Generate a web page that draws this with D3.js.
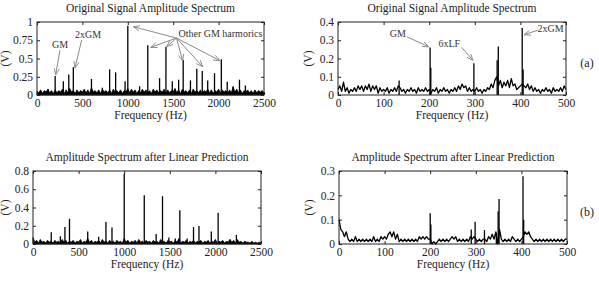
<!DOCTYPE html>
<html>
<head>
<meta charset="utf-8">
<script src="https://cdn.jsdelivr.net/npm/d3@7"></script>
<style>
  body { margin: 0; background: #fff; }
  svg { display: block; font-family: "Liberation Serif", "Times New Roman", serif; }
</style>
</head>
<body>
<svg width="599" height="284"></svg>
<script>
'use strict'

// ---- data ----

// tick values
const wideTicks = [0, 500, 1000, 1500, 2000, 2500];
const narrowTicks = [0, 100, 200, 300, 400, 500];
const yTicksA1 = [0, 0.25, 0.5, 0.75, 1];
const yTicksA2 = [0, 0.1, 0.2, 0.3, 0.4];
const yTicksB1 = [0, 0.2, 0.4, 0.6, 0.8];
const yTicksB2 = [0, 0.1, 0.2, 0.3];

// noise floor, 0..2500 Hz every 20 Hz
const noiseA1 = [
  0.05,0.03,0.07,0.02,0.06,0.04,0.08,0.03,0.06,0.02,
  0.07,0.03,0.06,0.04,0.08,0.02,0.07,0.03,0.09,0.04,
  0.06,0.02,0.07,0.03,0.06,0.04,0.08,0.03,0.07,0.02,
  0.10,0.04,0.06,0.03,0.07,0.02,0.08,0.04,0.06,0.03,
  0.07,0.02,0.08,0.04,0.06,0.03,0.07,0.02,0.06,0.04,
  0.09,0.03,0.08,0.04,0.07,0.02,0.06,0.03,0.08,0.04,
  0.07,0.03,0.06,0.02,0.08,0.04,0.07,0.03,0.06,0.04,
  0.08,0.02,0.07,0.03,0.06,0.04,0.09,0.03,0.07,0.02,
  0.08,0.04,0.06,0.03,0.07,0.02,0.08,0.04,0.06,0.03,
  0.07,0.02,0.06,0.04,0.08,0.03,0.07,0.02,0.06,0.04,
  0.08,0.03,0.07,0.04,0.06,0.02,0.07,0.03,0.11,0.04,
  0.08,0.03,0.07,0.02,0.06,0.04,0.07,0.03,0.06,0.02,
  0.07,0.03,0.06,0.04,0.06,0.03
];
const noiseB1 = [
  0.07,0.02,0.04,0.01,0.05,0.02,0.03,0.01,0.04,0.02,
  0.03,0.01,0.04,0.02,0.03,0.01,0.05,0.02,0.04,0.01,
  0.03,0.02,0.04,0.01,0.03,0.02,0.05,0.01,0.03,0.02,
  0.06,0.02,0.04,0.01,0.03,0.02,0.04,0.01,0.05,0.02,
  0.03,0.01,0.04,0.02,0.03,0.01,0.04,0.02,0.03,0.01,
  0.06,0.02,0.04,0.01,0.03,0.02,0.04,0.01,0.05,0.02,
  0.03,0.01,0.04,0.02,0.03,0.01,0.04,0.02,0.03,0.01,
  0.05,0.02,0.03,0.01,0.04,0.02,0.03,0.01,0.04,0.02,
  0.06,0.01,0.03,0.02,0.04,0.01,0.03,0.02,0.04,0.01,
  0.03,0.02,0.04,0.01,0.03,0.02,0.04,0.01,0.03,0.02,
  0.05,0.01,0.03,0.02,0.04,0.01,0.03,0.02,0.05,0.02,
  0.04,0.01,0.05,0.02,0.03,0.01,0.03,0.02,0.02,0.01,
  0.03,0.01,0.02,0.01,0.02,0.01
];

// noise floor, 0..500 Hz every 4 Hz
const noiseA2 = [
  0.03,0.05,0.02,0.07,0.02,0.04,0.01,0.03,0.02,0.04,
  0.02,0.05,0.03,0.05,0.02,0.05,0.03,0.06,0.02,0.05,
  0.03,0.05,0.01,0.04,0.02,0.03,0.02,0.04,0.01,0.03,
  0.02,0.04,0.02,0.05,0.04,0.02,0.03,0.01,0.03,0.02,
  0.04,0.02,0.03,0.01,0.04,0.02,0.03,0.02,0.04,0.02,
  0.03,0.01,0.03,0.02,0.04,0.01,0.03,0.02,0.04,0.02,
  0.03,0.01,0.03,0.02,0.04,0.02,0.05,0.03,0.06,0.04,
  0.05,0.02,0.04,0.02,0.03,0.02,0.04,0.02,0.03,0.01,
  0.03,0.02,0.04,0.03,0.06,0.04,0.08,0.10,0.05,0.08,
  0.04,0.07,0.05,0.08,0.04,0.09,0.05,0.06,0.03,0.04,
  0.05,0.06,0.05,0.04,0.06,0.03,0.05,0.02,0.04,0.02,
  0.03,0.01,0.03,0.02,0.04,0.02,0.03,0.01,0.04,0.02,
  0.03,0.02,0.04,0.02,0.05,0.03
];
const noiseB2 = [
  0.10,0.06,0.05,0.03,0.05,0.02,0.01,0.02,0.01,0.03,
  0.01,0.02,0.01,0.02,0.01,0.02,0.01,0.02,0.01,0.03,
  0.01,0.02,0.01,0.03,0.02,0.03,0.02,0.04,0.05,0.03,
  0.05,0.02,0.04,0.01,0.02,0.01,0.02,0.01,0.02,0.01,
  0.02,0.01,0.02,0.01,0.03,0.02,0.03,0.02,0.03,0.02,
  0.02,0.00,0.01,0.00,0.01,0.02,0.01,0.02,0.01,0.02,
  0.01,0.02,0.03,0.02,0.03,0.01,0.02,0.01,0.02,0.01,
  0.02,0.01,0.03,0.02,0.03,0.02,0.01,0.02,0.01,0.02,
  0.02,0.01,0.03,0.02,0.04,0.02,0.05,0.00,0.06,0.02,
  0.01,0.02,0.01,0.02,0.01,0.03,0.02,0.01,0.02,0.01,
  0.02,0.03,0.05,0.04,0.05,0.03,0.02,0.01,0.02,0.01,
  0.02,0.01,0.02,0.01,0.02,0.01,0.02,0.01,0.02,0.01,
  0.02,0.01,0.02,0.01,0.02,0.02
];

// spectral lines (Hz / V)
const peakFreqA1 = [125,200,290,350,400,600,720,800,866,970,1000,1130,1220,1350,1420,1490,1560,1610,1690,1760,1820,1880,1955,2030,2095,2160,2230,2295];
const peakAmpA1  = [0.08,0.26,0.19,0.28,0.38,0.22,0.10,0.35,0.31,0.19,0.95,0.12,0.68,0.23,0.66,0.19,0.21,0.48,0.20,0.36,0.33,0.20,0.30,0.49,0.18,0.12,0.21,0.13];
const peakFreqB1 = [200,300,350,400,600,720,800,866,1000,1220,1350,1420,1490,1560,1610,1690,1760,1820,1955,2030,2160,2230];
const peakAmpB1  = [0.13,0.085,0.185,0.276,0.137,0.08,0.24,0.18,0.77,0.535,0.11,0.524,0.07,0.06,0.37,0.06,0.185,0.196,0.137,0.343,0.05,0.10];
const peakFreqA2 = [134,202,203.5,298,349,351.5,404,406];
const peakAmpA2  = [0.08,0.26,0.15,0.174,0.19,0.266,0.367,0.14];
const peakFreqB2 = [200,201.5,290,298.5,319,345,349,351,403.5,405];
const peakAmpB2  = [0.126,0.08,0.06,0.091,0.057,0.045,0.135,0.185,0.278,0.10];

// annotations: label position and arrows in data units [fromF, fromA, toF, toA]
const notesA1 = [
  { text: 'GM', f: 253, a: 0.645, anchor: 'middle', arrows: [[253, 0.615, 205, 0.275]] },
  { text: '2xGM', f: 562, a: 0.78, anchor: 'middle', arrows: [[492, 0.753, 418, 0.37]] },
  { text: 'Other GM harmorics', f: 1558, a: 0.80, anchor: 'start', arrows: [
    [1536, 0.78, 1061, 0.936], [1536, 0.78, 1252, 0.653], [1536, 0.78, 1428, 0.662],
    [1536, 0.78, 1605, 0.466], [1536, 0.78, 1825, 0.388], [1536, 0.78, 2015, 0.47]] }
];
const notesA2 = [
  { text: 'GM', f: 131, a: 0.319, anchor: 'middle', arrows: [[151, 0.319, 199, 0.264]] },
  { text: '6xLF', f: 244, a: 0.264, anchor: 'middle', arrows: [[271, 0.261, 296, 0.19]] },
  { text: '2xGM', f: 466, a: 0.347, anchor: 'middle', arrows: [[438, 0.355, 408, 0.33]] }
];

// ---- drawing ----

const svg = d3.select('svg');
svg.append('rect').attr('width', 599).attr('height', 284).attr('fill', '#fff');

svg.append('defs').append('marker')
  .attr('id', 'head')
  .attr('viewBox', '0 0 8 8')
  .attr('refX', 7.5).attr('refY', 4)
  .attr('markerWidth', 7).attr('markerHeight', 7)
  .attr('markerUnits', 'userSpaceOnUse')
  .attr('orient', 'auto')
  .append('path')
  .attr('d', 'M0,1 L7.5,4 L0,7')
  .attr('fill', 'none')
  .attr('stroke', '#8a8a8a')
  .attr('stroke-width', 1);

const panels = [
  { left: 37, right: 264, top: 22, bottom: 95, xMax: 2500, xTicks: wideTicks, step: 20, dense: true,
    yMax: 1, yTicks: yTicksA1, noise: noiseA1, pf: peakFreqA1, pa: peakAmpA1, notes: notesA1,
    title: 'Original Signal Amplitude Spectrum', ylabX: 9 },
  { left: 338, right: 566, top: 22, bottom: 95, xMax: 500, xTicks: narrowTicks, step: 4,
    yMax: 0.4, yTicks: yTicksA2, noise: noiseA2, pf: peakFreqA2, pa: peakAmpA2, notes: notesA2,
    title: 'Original Signal Amplitude Spectrum', ylabX: 312, tag: '(a)' },
  { left: 33, right: 261, top: 171, bottom: 244, xMax: 2500, xTicks: wideTicks, step: 20, dense: true,
    yMax: 0.8, yTicks: yTicksB1, noise: noiseB1, pf: peakFreqB1, pa: peakAmpB1, notes: [],
    title: 'Amplitude Spectrum after Linear Prediction', ylabX: 9 },
  { left: 339, right: 567, top: 171, bottom: 244, xMax: 500, xTicks: narrowTicks, step: 4,
    yMax: 0.3, yTicks: yTicksB2, noise: noiseB2, pf: peakFreqB2, pa: peakAmpB2, notes: [],
    title: 'Amplitude Spectrum after Linear Prediction', ylabX: 313, tag: '(b)' }
];

function styleAxis(sel) {
  sel.attr('font-family', '"Liberation Serif", "Times New Roman", serif')
    .attr('font-size', 11.5)
    .attr('color', '#222');
  sel.select('.domain').remove();
}

function drawPanel(p) {
  const x = d3.scaleLinear().domain([0, p.xMax]).range([p.left, p.right]);
  const y = d3.scaleLinear().domain([0, p.yMax]).range([p.bottom, p.top]);
  const g = svg.append('g');

  // noise floor trace (the wide-band panels are so dense they read as a filled band)
  if (p.dense) {
    const area = d3.area()
      .x((d, i) => x(i * p.step))
      .y0(y(0))
      .y1(d => y(d));
    g.append('path')
      .datum(p.noise)
      .attr('d', area)
      .attr('fill', '#000')
      .attr('stroke', '#000')
      .attr('stroke-width', 0.8);
  } else {
    const line = d3.line()
      .x((d, i) => x(i * p.step))
      .y(d => y(d));
    g.append('path')
      .datum(p.noise)
      .attr('d', line)
      .attr('fill', 'none')
      .attr('stroke', '#000')
      .attr('stroke-width', 1.3)
      .attr('stroke-linejoin', 'round');
  }

  // spectral lines
  g.selectAll('line.peak')
    .data(p.pf)
    .enter().append('line')
    .attr('class', 'peak')
    .attr('x1', d => x(d))
    .attr('x2', d => x(d))
    .attr('y1', y(0))
    .attr('y2', (d, i) => y(p.pa[i]))
    .attr('stroke', '#000')
    .attr('stroke-width', 1.3);

  // axes: ticks inside, mirrored on top and right
  const fmt = d => String(d);
  g.append('g').attr('transform', 'translate(0,' + p.bottom + ')')
    .call(d3.axisBottom(x).tickValues(p.xTicks).tickSizeInner(-3).tickSizeOuter(0).tickPadding(4).tickFormat(fmt))
    .call(styleAxis);
  g.append('g').attr('transform', 'translate(0,' + p.top + ')')
    .call(d3.axisTop(x).tickValues(p.xTicks).tickSizeInner(-3).tickSizeOuter(0).tickFormat(''))
    .call(styleAxis);
  g.append('g').attr('transform', 'translate(' + p.left + ',0)')
    .call(d3.axisLeft(y).tickValues(p.yTicks).tickSizeInner(-3).tickSizeOuter(0).tickPadding(4).tickFormat(fmt))
    .call(styleAxis);
  g.append('g').attr('transform', 'translate(' + p.right + ',0)')
    .call(d3.axisRight(y).tickValues(p.yTicks).tickSizeInner(-3).tickSizeOuter(0).tickFormat(''))
    .call(styleAxis);

  g.append('rect')
    .attr('x', p.left).attr('y', p.top)
    .attr('width', p.right - p.left).attr('height', p.bottom - p.top)
    .attr('fill', 'none').attr('stroke', '#222').attr('stroke-width', 1);

  // texts
  const cx = (p.left + p.right) / 2;
  g.append('text').attr('x', cx).attr('y', p.top - 10)
    .attr('text-anchor', 'middle').attr('font-size', 11.5).attr('fill', '#222')
    .text(p.title);
  g.append('text').attr('x', cx).attr('y', p.bottom + 24)
    .attr('text-anchor', 'middle').attr('font-size', 11.5).attr('fill', '#222')
    .text('Frequency (Hz)');
  g.append('text')
    .attr('transform', 'translate(' + p.ylabX + ',' + ((p.top + p.bottom) / 2) + ') rotate(-90)')
    .attr('text-anchor', 'middle').attr('font-size', 11.5).attr('fill', '#222')
    .text('(V)');
  if (p.tag) {
    g.append('text').attr('x', 587).attr('y', (p.top + p.bottom) / 2 + 8)
      .attr('text-anchor', 'middle').attr('font-size', 12).attr('fill', '#222')
      .text(p.tag);
  }

  // annotations
  p.notes.forEach(n => {
    g.append('text').attr('x', x(n.f)).attr('y', y(n.a))
      .attr('text-anchor', n.anchor).attr('font-size', 10).attr('fill', '#333')
      .text(n.text);
    n.arrows.forEach(a => {
      g.append('line')
        .attr('x1', x(a[0])).attr('y1', y(a[1]))
        .attr('x2', x(a[2])).attr('y2', y(a[3]))
        .attr('stroke', '#8a8a8a').attr('stroke-width', 1)
        .attr('marker-end', 'url(#head)');
    });
  });
}

panels.forEach(drawPanel);
</script>
</body>
</html>
